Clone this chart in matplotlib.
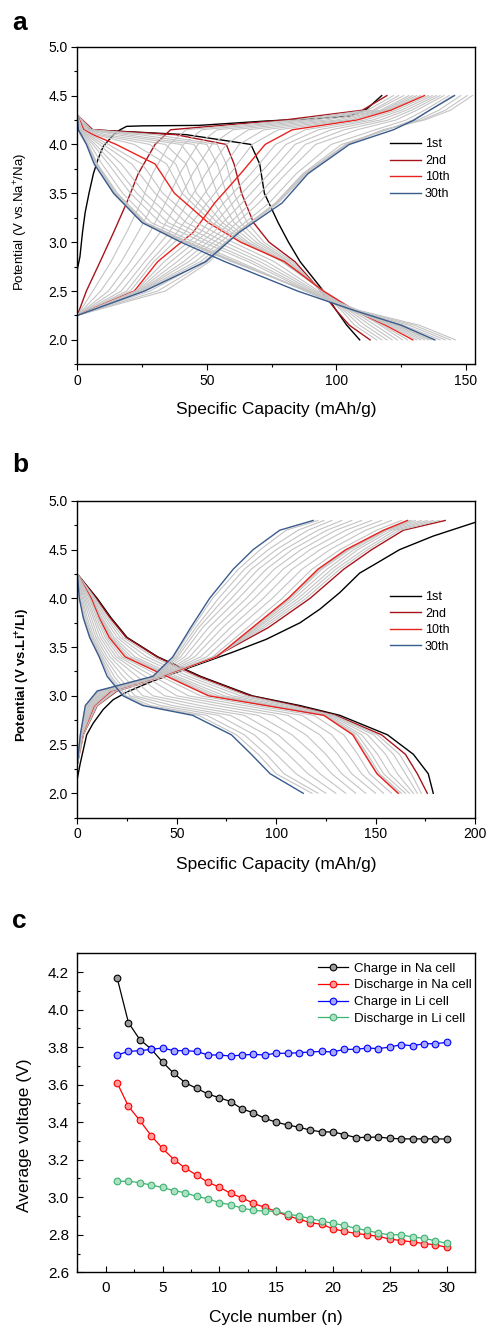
'''
Curvas de carga/descarga (células de Na e Li) e tensão média por ciclo.
'''

import numpy as np
import matplotlib.pyplot as plt
from matplotlib.ticker import MultipleLocator

plt.rcParams['font.family'] = ['Liberation Sans', 'DejaVu Sans']
plt.rcParams['mathtext.fontset'] = 'custom'
plt.rcParams['mathtext.rm'] = 'Liberation Sans'
plt.rcParams['mathtext.bf'] = 'Liberation Sans:bold'


# ---------------- painel a: célula de Na ----------------
# 1º ciclo de carga (começa em ~2.7 V)
na_first_cap = [0, 1, 2, 3, 4.5, 6.2, 8, 10, 14, 16.5, 19, 25, 47, 73, 92, 105, 111.6, 117.5]
na_first_v = [2.72, 2.85, 3.1, 3.3, 3.5, 3.7, 3.85, 3.98, 4.1, 4.15, 4.185, 4.19, 4.195, 4.24, 4.265, 4.29, 4.36, 4.5]

# carga: capacidade (mAh/g) em cada nível de tensão
na_chg_v = [2.25, 2.5, 2.8, 3.1, 3.4, 3.7, 4.0, 4.15, 4.25, 4.35, 4.5]
na_chg_cycles = [2, 3, 4, 5, 6, 7, 8, 9, 10, 12, 14, 16, 18, 20, 23, 26, 27, 28, 29, 30]
na_chg_cap = [
    [0, 3.5, 8.8, 14, 19, 23.5, 30, 36, 80, 110, 119.5],
    [0, 6, 13, 19, 24.5, 29, 35.5, 42, 84, 112, 122],
    [0, 9, 17, 23.5, 29.5, 34.5, 41, 48, 88, 114, 124],
    [0, 12, 20.5, 28, 34, 39.5, 46.5, 54, 92, 115, 126],
    [0, 14.5, 23.5, 32, 38.5, 44.5, 52, 60, 96, 117, 128],
    [0, 17, 26, 35.5, 42.5, 49.5, 57.5, 66, 100, 118, 129.5],
    [0, 19, 28, 38.5, 46.5, 54.5, 62.5, 72, 103, 119, 131],
    [0, 20.5, 29.5, 41.5, 50, 59, 67.5, 77.5, 105.5, 120, 132.5],
    [0, 22, 31, 44.7, 53, 63, 72.5, 83, 108, 121, 134],
    [0, 22.5, 33.5, 47.5, 56.5, 67, 76.5, 88, 111, 123, 135.5],
    [0, 23, 36, 50, 60, 70.5, 80.5, 93, 114, 125, 137],
    [0, 23.5, 38.5, 52.5, 63.5, 74, 84, 98, 117, 127, 138.5],
    [0, 24, 41, 55, 67, 77.5, 88, 103, 120, 129, 140],
    [0, 24.5, 43, 57.5, 70, 80.5, 92, 108, 123, 131, 141.5],
    [0, 25, 45.5, 60, 74, 84.5, 98, 115, 127, 134, 143.5],
    [0, 25.5, 47.5, 62, 76.5, 87, 102, 119.5, 129.5, 136, 145],
    [0, 28, 49, 62, 77.5, 88.5, 104, 119, 131.5, 139.5, 148],
    [0, 31, 50, 61.5, 77, 88, 104, 118.5, 133, 142, 150.5],
    [0, 34, 51, 61.5, 76.5, 87.5, 103.5, 118, 134, 144, 152.5],
    [0, 26, 49.5, 62.5, 79, 89, 105, 122, 130, 136, 145.6],
]

# descarga
na_dis_v = [4.3, 4.15, 4.1, 4.0, 3.8, 3.5, 3.2, 3.0, 2.8, 2.5, 2.3, 2.15, 2.0]
na_dis_cycles = [1, 2, 3, 4, 5, 6, 7, 8, 9, 10, 12, 14, 16, 18, 20, 23, 26, 27, 28, 29, 30]
na_dis_cap = [
    [0, 5, 42, 67, 70.4, 72.2, 77.5, 81.5, 86, 95, 100, 104, 109],
    [0, 6, 38, 57.5, 60.5, 63.4, 68, 74, 84, 94, 100, 105, 113],
    [0, 5.5, 30, 54, 57.5, 60.5, 65.5, 72, 83, 94, 102, 107, 115.5],
    [0, 5, 24, 50, 54, 57.5, 63, 70.5, 82, 94, 103, 109, 117.5],
    [0, 4.5, 19, 45, 50, 54, 60.5, 69, 81.5, 94.5, 104, 111, 119.5],
    [0, 4, 15, 40, 46, 50, 58, 67.5, 80.5, 94.5, 105, 113, 121.5],
    [0, 3.5, 11, 34, 42, 46, 56, 66, 80, 95, 106, 115, 123.5],
    [0, 3, 8.5, 28, 38, 43, 54, 65, 79.5, 95, 107, 117, 125.5],
    [0, 2.8, 7, 22, 34.5, 40.5, 52, 64, 79, 95, 107.5, 118, 127.5],
    [0, 2.5, 6, 15, 30, 37.5, 50.5, 63, 80, 95, 107, 119, 129.5],
    [0, 2, 5, 12, 25, 33, 46, 60, 76, 93, 107, 120, 131],
    [0, 1.8, 4.2, 10, 21, 30, 42, 57, 73, 92, 106.5, 121, 132.5],
    [0, 1.5, 3.5, 8.5, 17, 26, 38.5, 54, 70.5, 91, 106, 122, 134],
    [0, 1.2, 3, 7, 14, 23, 35, 51, 68, 90, 106, 123, 135.5],
    [0, 1, 2.5, 6, 12, 20.5, 32, 48.5, 66, 89, 105.5, 123.5, 136.5],
    [0, 0.8, 2, 5, 9.5, 17.5, 28.5, 45, 62.5, 88, 105.5, 124.5, 137.5],
    [0, 0.6, 1.5, 4.2, 7.8, 15.5, 26.5, 43, 61, 88, 106, 126, 140],
    [0, 0.5, 1.3, 4, 7.5, 15, 26, 42.5, 60.5, 88.5, 107, 128, 142],
    [0, 0.5, 1.2, 3.8, 7.2, 14.5, 25.5, 42, 60, 89, 108, 130, 144],
    [0, 0.4, 1.1, 3.6, 7, 14, 25, 41.5, 59.5, 89.5, 109, 132, 146],
    [0, 0.4, 1.5, 3.5, 6.5, 14, 25, 40, 57, 85, 107, 125, 138],
]

# ---------------- painel b: célula de Li ----------------
li_first_cap = [0, 1.4, 4.7, 8, 13, 18, 25, 36.5, 55, 78.4, 95, 112, 122, 132, 142, 150.4, 162, 179, 200]
li_first_v = [2.15, 2.3, 2.6, 2.72, 2.86, 2.96, 3.04, 3.14, 3.28, 3.45, 3.58, 3.75, 3.89, 4.06, 4.26, 4.36, 4.5, 4.64, 4.78]

li_chg_v = [2.3, 2.6, 2.9, 3.05, 3.2, 3.4, 3.7, 4.0, 4.3, 4.5, 4.7, 4.8]
li_chg_cycles = [2, 3, 4, 5, 6, 7, 8, 9, 10, 11, 13, 15, 17, 19, 21, 23, 25, 27, 29, 30]
li_chg_cap = [
    [0, 3, 10, 20, 44, 69, 96, 117, 134, 148, 164, 185],
    [0, 2.9, 9.8, 19.5, 43.8, 69, 94, 115, 132, 146, 162, 182],
    [0, 2.8, 9.5, 19, 43.5, 69, 92.5, 113, 130, 144, 160, 179],
    [0, 2.7, 9.3, 18.5, 43.2, 69.5, 91, 111, 128, 141, 158, 176],
    [0, 2.7, 9.1, 18, 43, 70, 90, 109, 125.5, 139, 156, 173],
    [0, 2.6, 8.9, 17.7, 42.7, 70, 89, 107.5, 123, 137, 155, 170],
    [0, 2.6, 8.7, 17.4, 42.4, 70, 88.5, 106.5, 122, 136, 154.5, 168],
    [0, 2.5, 8.6, 17.2, 42.2, 70, 88.2, 106.2, 121.5, 135.5, 154.2, 167],
    [0, 2.5, 8.5, 17, 42, 70, 88, 106, 121, 135, 154, 166],
    [0, 2.4, 8.2, 16.5, 41.8, 68, 85.5, 103, 118, 132, 150.5, 163],
    [0, 2.3, 7.8, 15.8, 41.4, 65, 81, 98, 113, 127, 145, 158],
    [0, 2.2, 7.3, 15, 41, 62, 77, 93.5, 108, 122, 140, 153],
    [0, 2.1, 6.8, 14.2, 40.6, 59, 73, 89, 103.5, 117, 135, 148],
    [0, 2, 6.3, 13.5, 40.2, 56.5, 69.5, 85, 99, 112.5, 130, 143],
    [0, 1.9, 5.8, 12.7, 39.8, 54, 66, 81, 95, 108, 125.5, 138],
    [0, 1.8, 5.3, 12, 39.4, 52, 63, 77.5, 91, 104, 121, 133],
    [0, 1.7, 4.8, 11.3, 39, 50.5, 61, 74, 87.5, 100, 116, 128],
    [0, 1.6, 4.4, 10.7, 38.6, 49.5, 59.5, 71, 84, 96, 111, 124],
    [0, 1.5, 4.2, 10.3, 38.3, 48.5, 58, 68, 81, 92, 105, 121],
    [0, 1.5, 4, 10, 38, 48, 57, 66.5, 78.4, 88.4, 101.8, 118.6],
]

li_dis_v = [4.25, 4.0, 3.8, 3.6, 3.4, 3.2, 3.0, 2.9, 2.8, 2.6, 2.4, 2.2, 2.0]
li_dis_cycles = [1, 2, 3, 4, 5, 6, 7, 8, 9, 10, 11, 13, 15, 17, 19, 21, 23, 25, 27, 29, 30]
li_dis_cap = [
    [0, 10, 17, 25, 40.5, 62, 88, 112, 132, 156, 169, 176.5, 179],
    [0, 9.5, 16.5, 24.5, 40, 61, 87, 110, 130, 153, 165, 171, 176],
    [0, 9, 15.5, 23, 38, 59, 85, 108, 129, 151, 162, 168, 173],
    [0, 8.5, 14.5, 21.5, 35, 56, 82, 106, 128, 149, 159, 165, 171],
    [0, 8, 13.5, 20, 32, 53, 78, 103, 127, 146, 155, 161, 169],
    [0, 7.5, 12.5, 18.5, 29, 50, 74, 100, 126, 143, 151, 157, 167],
    [0, 7.2, 12, 17.5, 27, 48, 71, 98, 125, 141, 148, 154, 165],
    [0, 7, 11.5, 16.8, 25.5, 46.5, 68.5, 96.5, 124.5, 139.5, 146, 152, 163],
    [0, 7, 11.2, 16.3, 24.5, 45.5, 67, 95.5, 124, 139, 145, 151, 162],
    [0, 7, 11, 16, 24, 45, 66, 95, 124, 138.5, 144.5, 150.7, 161.3],
    [0, 6.5, 10.5, 15, 22.5, 42, 62, 90, 119, 134, 141, 147, 158],
    [0, 6, 9.7, 14, 21, 38, 56, 84, 113, 128, 136, 143, 154],
    [0, 5.2, 8.8, 12.8, 19.5, 34, 50, 77, 106, 122, 131, 138, 150],
    [0, 4.5, 8, 11.6, 18, 30, 44, 70, 99, 115, 125, 133, 145],
    [0, 3.8, 7, 10.4, 16.5, 26, 38, 62, 91, 108, 119, 128, 140],
    [0, 3.2, 6, 9.4, 15, 23, 33, 55, 84, 101, 112, 122, 135],
    [0, 2.6, 5, 8.4, 13.8, 20.5, 29, 48, 77, 95, 106, 116, 130],
    [0, 2, 4.2, 7.6, 12.8, 18.5, 26.5, 42, 71, 89, 100, 110, 125],
    [0, 1.6, 3.6, 7, 12, 17, 24.5, 37, 65, 84, 95, 104, 121],
    [0, 1.2, 3.2, 6.5, 11.5, 16, 23.5, 34.5, 61, 80, 91, 100, 118],
    [0, 1, 3, 6.2, 11, 15, 23, 33, 58, 77.5, 87.5, 97, 113.6],
]

# ---------------- painel c: tensão média ----------------
cycle_n = list(range(1, 31))
chg_na = [4.17, 3.93, 3.84, 3.79, 3.72, 3.66, 3.61, 3.58, 3.55, 3.53, 3.51, 3.47, 3.45, 3.42,
          3.40, 3.385, 3.373, 3.358, 3.348, 3.348, 3.334, 3.318, 3.319, 3.321, 3.314, 3.311,
          3.311, 3.311, 3.311, 3.31]
dis_na = [3.61, 3.484, 3.409, 3.328, 3.26, 3.201, 3.155, 3.118, 3.079, 3.054, 3.02, 2.997,
          2.967, 2.946, 2.925, 2.90, 2.884, 2.864, 2.856, 2.832, 2.818, 2.807, 2.80, 2.791,
          2.777, 2.769, 2.762, 2.753, 2.747, 2.733]
chg_li = [3.758, 3.777, 3.781, 3.788, 3.795, 3.781, 3.781, 3.777, 3.758, 3.758, 3.752, 3.758,
          3.761, 3.758, 3.767, 3.767, 3.77, 3.774, 3.777, 3.774, 3.788, 3.788, 3.795, 3.792,
          3.80, 3.813, 3.807, 3.818, 3.818, 3.825]
dis_li = [3.084, 3.086, 3.077, 3.065, 3.052, 3.035, 3.024, 3.004, 2.992, 2.971, 2.96, 2.942,
          2.93, 2.926, 2.925, 2.91, 2.901, 2.886, 2.873, 2.861, 2.85, 2.834, 2.823, 2.809,
          2.80, 2.80, 2.788, 2.781, 2.768, 2.754]


# estilos
cinza = '#c4c4c4'
destaque = {1: '#000000', 2: '#a8141b', 10: '#e8231f', 30: '#3a5b8e'}
rotulo = {1: '1st', 2: '2nd', 10: '10th', 30: '30th'}


def desenha_ciclos(ax, first_cap, first_v, chg_v, chg_cycles, chg_cap,
                   dis_v, dis_cycles, dis_cap):
    todos = sorted(set(chg_cycles) | set(dis_cycles) | {1})
    for c in todos:
        cor = destaque.get(c, cinza)
        lw = 1.0 if c in destaque else 0.8
        lab = rotulo.get(c)
        if c == 1:
            ax.plot(first_cap, first_v, c=cor, lw=lw, label=lab)
        elif c in chg_cycles:
            ax.plot(chg_cap[chg_cycles.index(c)], chg_v, c=cor, lw=lw, label=lab)
        if c in dis_cycles:
            ax.plot(dis_cap[dis_cycles.index(c)], dis_v, c=cor, lw=lw)


def estilo_eixo(ax, direcao):
    for s in ax.spines.values():
        s.set_linewidth(1.0)
    ax.tick_params(which='both', direction=direcao, top=False, right=False,
                   labelsize=10, width=0.8)
    ax.tick_params(which='major', length=4)
    ax.tick_params(which='minor', length=2.2)


fig = plt.figure(figsize=(4.9, 13.31), dpi=100)

# --- a ---
ax1 = fig.add_axes([0.1578, 0.7263, 0.8116, 0.2386])
desenha_ciclos(ax1, na_first_cap, na_first_v, na_chg_v, na_chg_cycles, na_chg_cap,
               na_dis_v, na_dis_cycles, na_dis_cap)
ax1.set_xlim(0, 153.5)
ax1.set_ylim(1.75, 5.0)
ax1.xaxis.set_major_locator(MultipleLocator(50))
ax1.xaxis.set_minor_locator(MultipleLocator(25))
ax1.yaxis.set_minor_locator(MultipleLocator(0.25))
ax1.set_yticks([2.0, 2.5, 3.0, 3.5, 4.0, 4.5, 5.0])
ax1.set_yticklabels(['2.0', '2.5', '3.0', '3.5', '4.0', '4.5', '5.0'])
estilo_eixo(ax1, 'out')
ax1.tick_params(which='major', pad=3)
ax1.set_xlabel('Specific Capacity (mAh/g)', fontsize=12.5, labelpad=10)
ax1.set_ylabel(r'Potential (V vs.Na$^{+}$/Na)', fontsize=9.5)
ax1.yaxis.set_label_coords(-0.119, 0.448)
ax1.legend(loc='upper left', bbox_to_anchor=(0.786, 0.711), frameon=False, fontsize=9,
           borderpad=0, borderaxespad=0, handlelength=2.5, handletextpad=0.3,
           labelspacing=0.36)

# --- b ---
ax2 = fig.add_axes([0.1578, 0.3857, 0.8116, 0.2379])
desenha_ciclos(ax2, li_first_cap, li_first_v, li_chg_v, li_chg_cycles, li_chg_cap,
               li_dis_v, li_dis_cycles, li_dis_cap)
ax2.set_xlim(0, 200)
ax2.set_ylim(1.75, 5.0)
ax2.xaxis.set_major_locator(MultipleLocator(50))
ax2.xaxis.set_minor_locator(MultipleLocator(25))
ax2.yaxis.set_minor_locator(MultipleLocator(0.25))
ax2.set_yticks([2.0, 2.5, 3.0, 3.5, 4.0, 4.5, 5.0])
ax2.set_yticklabels(['2.0', '2.5', '3.0', '3.5', '4.0', '4.5', '5.0'])
estilo_eixo(ax2, 'out')
ax2.tick_params(which='major', pad=3)
ax2.set_xlabel('Specific Capacity (mAh/g)', fontsize=12.5, labelpad=11)
ax2.set_ylabel(r'Potential (V vs.Li$^{\mathbf{+}}$/Li)', fontsize=9.5, fontweight='bold')
ax2.yaxis.set_label_coords(-0.114, 0.45)
ax2.legend(loc='upper left', bbox_to_anchor=(0.786, 0.715), frameon=False, fontsize=9,
           borderpad=0, borderaxespad=0, handlelength=2.5, handletextpad=0.3,
           labelspacing=0.36)

# --- c ---
ax3 = fig.add_axes([0.1578, 0.0441, 0.8116, 0.2397])
series_c = [
    (chg_na, '#000000', '#9c9c9c', 'Charge in Na cell'),
    (dis_na, '#ff0000', '#ff9a9a', 'Discharge in Na cell'),
    (chg_li, '#0000ff', '#a8a8ff', 'Charge in Li cell'),
    (dis_li, '#3cb371', '#aee0c4', 'Discharge in Li cell'),
]
for ys, cor, face, lab in series_c:
    ax3.plot(cycle_n, ys, c=cor, lw=0.9, marker='o', ms=4.8, mfc=face, mec=cor,
             mew=0.8, label=lab)
ax3.set_xlim(-2.5, 32.5)
ax3.set_ylim(2.6, 4.3)
ax3.xaxis.set_major_locator(MultipleLocator(5))
ax3.xaxis.set_minor_locator(MultipleLocator(2.5))
ax3.yaxis.set_major_locator(MultipleLocator(0.2))
ax3.yaxis.set_minor_locator(MultipleLocator(0.1))
estilo_eixo(ax3, 'in')
ax3.tick_params(which='major', labelsize=11, pad=6)
ax3.set_xlabel('Cycle number (n)', fontsize=12.5, labelpad=11)
ax3.set_ylabel('Average voltage (V)', fontsize=12.5)
ax3.yaxis.set_label_coords(-0.114, 0.43)
ax3.legend(loc='upper left', bbox_to_anchor=(0.605, 0.971), frameon=False, fontsize=9.5,
           borderpad=0, borderaxespad=0, handlelength=2.3, handletextpad=0.4,
           labelspacing=0.34, numpoints=1)

# letras dos painéis
fig.text(0.024, 0.9775, 'a', fontsize=19, fontweight='bold', va='baseline')
fig.text(0.024, 0.6454, 'b', fontsize=19, fontweight='bold', va='baseline')
fig.text(0.024, 0.3028, 'c', fontsize=19, fontweight='bold', va='baseline')

plt.savefig('out.png', dpi=100)
plt.close()
